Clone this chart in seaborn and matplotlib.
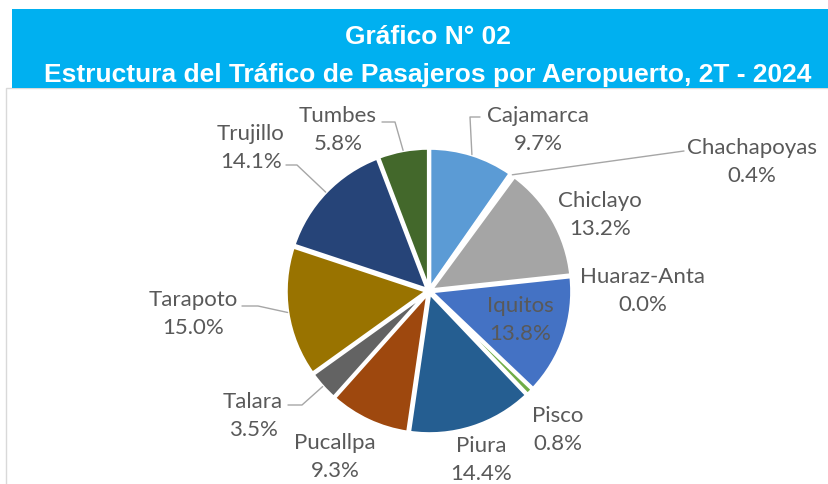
import matplotlib
matplotlib.use("Agg")
import matplotlib.pyplot as plt
import seaborn as sns
import numpy as np
from matplotlib.patches import Rectangle

# datos
aeropuertos = ['Cajamarca', 'Chachapoyas', 'Chiclayo', 'Huaraz-Anta', 'Iquitos', 'Pisco',
               'Piura', 'Pucallpa', 'Talara', 'Tarapoto', 'Trujillo', 'Tumbes']
participacion = [9.7, 0.4, 13.2, 0.0, 13.8, 0.8, 14.4, 9.3, 3.5, 15.0, 14.1, 5.8]
titulo1 = 'Gráfico N° 02'
titulo2 = 'Estructura del Tráfico de Pasajeros por Aeropuerto, 2T - 2024'

colores = ['#5B9BD5', '#ED7D31', '#A5A5A5', '#FFC000', '#4472C4', '#70AD47',
           '#255E91', '#9E480E', '#636363', '#997300', '#264478', '#43682B']

sns.set_theme(style='white')
plt.rcParams['font.family'] = ['Lato', 'DejaVu Sans']

W, H = 829, 485
fig = plt.figure(figsize=(W / 100, H / 100), dpi=100)
ax = fig.add_axes([0, 0, 1, 1])

cx, cy, R = 429, H - 292, 141
wedges, _ = ax.pie(participacion, colors=colores, startangle=90, counterclock=False,
                   center=(cx, cy), radius=R, explode=[2] * len(participacion),
                   wedgeprops=dict(edgecolor='white', linewidth=2.5))
ax.set_xlim(0, W)
ax.set_ylim(0, H)
ax.axis('off')

# marco y banda de titulo
ax.add_patch(Rectangle((6, -5), W, H - 89 + 5, fill=False, edgecolor='#D9D9D9', lw=1))
ax.add_patch(Rectangle((12, H - 89), W, 79, facecolor='#00B0F0', edgecolor='none'))
ax.text(428, H - 37, titulo1, color='white', fontsize=19, fontweight='bold',
        family='Liberation Sans', ha='center', va='center')
ax.text(428, H - 75, titulo2, color='white', fontsize=19, fontweight='bold',
        family='Liberation Sans', ha='center', va='center')

# posicion de etiquetas (pixeles) y guias
pos = {
    'Cajamarca': (538, 130), 'Chachapoyas': (752, 162), 'Chiclayo': (600, 215),
    'Huaraz-Anta': (643, 291), 'Iquitos': (520, 320), 'Pisco': (558, 430),
    'Piura': (481, 460), 'Pucallpa': (335, 457), 'Talara': (253, 416),
    'Tarapoto': (193, 314), 'Trujillo': (251, 148), 'Tumbes': (338, 130),
}
guias = {
    'Cajamarca': [(470, 118), (480, 118)],
    'Chachapoyas': [(684, 152)],
    'Talara': [(302, 406), (288, 406)],
    'Tarapoto': [(258, 307), (242, 307)],
    'Trujillo': [(297, 166), (286, 166)],
    'Tumbes': [(395, 123), (382, 123)],
}

acum = 0
for nombre, v, w in zip(aeropuertos, participacion, wedges):
    theta = np.deg2rad(90 - (acum + v / 2) * 3.6)
    acum += v
    x, y = pos[nombre]
    ax.text(x, H - y, f'{nombre}\n{v:.1f}%', ha='center', va='center', fontsize=16,
            color='#595959', linespacing=1.5)
    if nombre in guias:
        xs = [cx + (R + 2) * np.cos(theta)] + [p[0] for p in guias[nombre]]
        ys = [cy + (R + 2) * np.sin(theta)] + [H - p[1] for p in guias[nombre]]
        ax.plot(xs, ys, color='#A6A6A6', lw=1)

fig.savefig('out.png', dpi=100)
